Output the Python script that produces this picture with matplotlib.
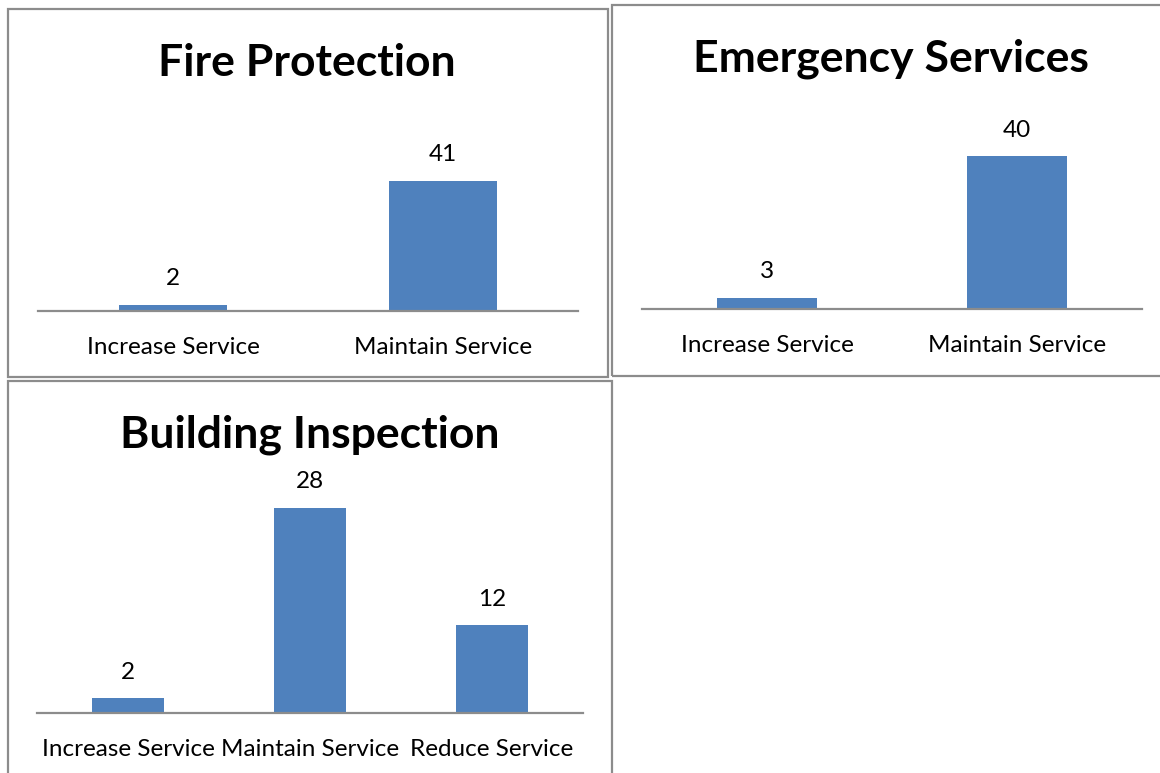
import matplotlib
matplotlib.use("Agg")
import matplotlib.pyplot as plt
from matplotlib.patches import Rectangle

W, H = 1160, 773
FONT = ["Lato", "DejaVu Sans"]
BAR = "#4F81BD"
GRAY = "#8C8C8C"

fire_title = "Fire Protection"
fire_cats = ["Increase Service", "Maintain Service"]
fire_vals = [2, 41]

ems_title = "Emergency Services"
ems_cats = ["Increase Service", "Maintain Service"]
ems_vals = [3, 40]

bld_title = "Building Inspection"
bld_cats = ["Increase Service", "Maintain Service", "Reduce Service"]
bld_vals = [2, 28, 12]

fig = plt.figure(figsize=(W / 100, H / 100), dpi=100)
fig.patch.set_facecolor("white")


def fx(x):
    return x / W


def fy(y):
    return 1 - y / H


def frame(x0, y0, x1, y1):
    fig.add_artist(Rectangle((fx(x0), fy(y1)), fx(x1) - fx(x0), fy(y0) - fy(y1),
                             transform=fig.transFigure, fill=False,
                             edgecolor=GRAY, linewidth=1.6, clip_on=False))


def panel(title, cats, vals, left, right, base, top, ymax, title_xy):
    ax = fig.add_axes([fx(left), fy(base), fx(right) - fx(left), fy(top) - fy(base)])
    n = len(cats)
    xs = list(range(n))
    ax.bar(xs, vals, width=0.4, color=BAR, zorder=2)
    ax.set_xlim(-0.5, n - 0.5)
    ax.set_ylim(0, ymax)
    for s in ["top", "left", "right"]:
        ax.spines[s].set_visible(False)
    ax.spines["bottom"].set_color(GRAY)
    ax.spines["bottom"].set_linewidth(1.6)
    ax.set_yticks([])
    ax.set_xticks(xs)
    ax.set_xticklabels(cats, fontsize=17.5, family=FONT, color="black")
    ax.tick_params(axis="x", length=0, pad=18.5)
    ax.patch.set_alpha(0)
    for x, v in zip(xs, vals):
        ax.annotate(str(v), (x, v), xytext=(0, 18.7), textcoords="offset points",
                    ha="center", va="center", fontsize=17.5, family=FONT)
    fig.text(fx(title_xy[0]), fy(title_xy[1]), title, ha="center", va="center",
             fontsize=32, fontweight="bold", family=FONT)
    return ax


frame(8, 9, 608, 377)
frame(612, 5, 1175, 376)
frame(8, 381, 612, 790)

panel(fire_title, fire_cats, fire_vals, 38, 578, 311, 168, 45, (307, 63))
panel(ems_title, ems_cats, ems_vals, 642, 1142, 309, 137, 45, (891, 59))
panel(bld_title, bld_cats, bld_vals, 37, 583, 713, 493, 30, (310, 435))

fig.savefig("out.png", dpi=100, facecolor="white")
